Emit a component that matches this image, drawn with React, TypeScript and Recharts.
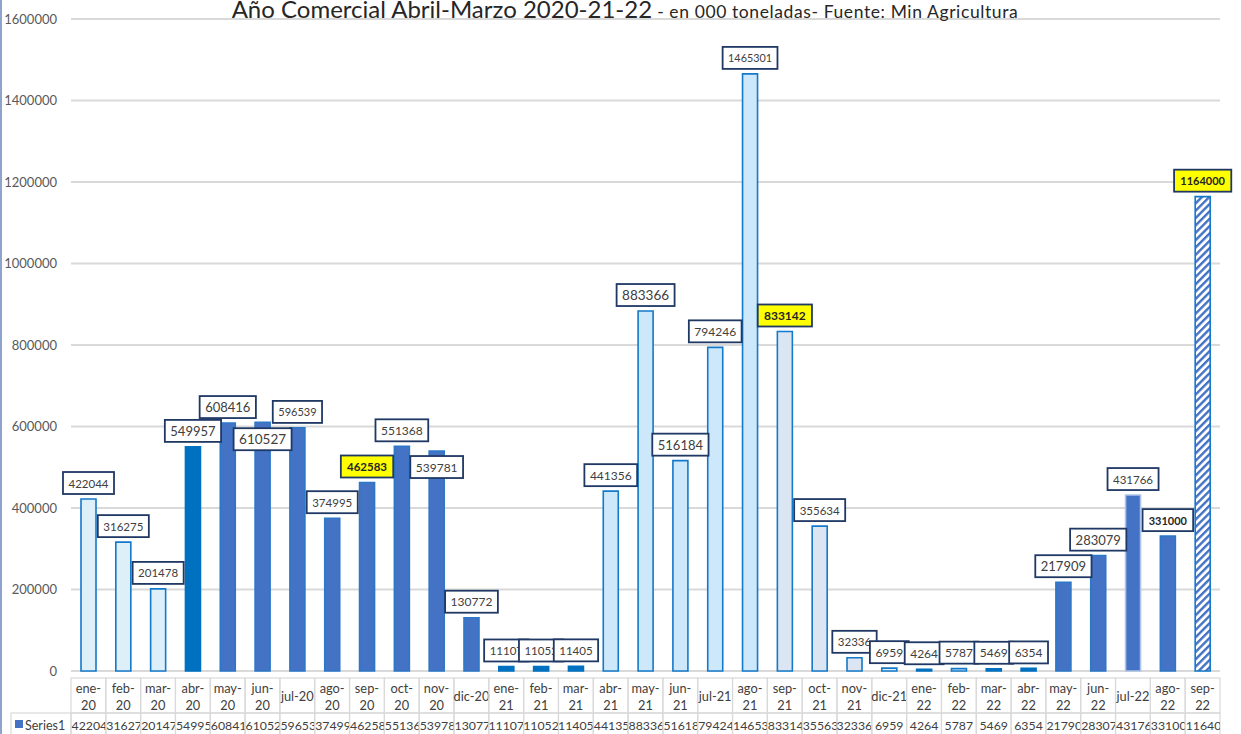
import React from 'react'
import { BarChart, Bar, XAxis, YAxis, CartesianGrid, Cell, LabelList } from 'recharts'

const categories = [
  'ene-20', 'feb-20', 'mar-20', 'abr-20', 'may-20', 'jun-20', 'jul-20', 'ago-20', 'sep-20', 'oct-20', 'nov-20', 'dic-20',
  'ene-21', 'feb-21', 'mar-21', 'abr-21', 'may-21', 'jun-21', 'jul-21', 'ago-21', 'sep-21', 'oct-21', 'nov-21', 'dic-21',
  'ene-22', 'feb-22', 'mar-22', 'abr-22', 'may-22', 'jun-22', 'jul-22', 'ago-22', 'sep-22',
]

const series1 = [
  422044, 316275, 201478, 549957, 608416, 610527, 596539, 374995, 462583, 551368, 539781, 130772,
  11107, 11052, 11405, 441356, 883366, 516184, 794246, 1465301, 833142, 355634, 32336, 6959,
  4264, 5787, 5469, 6354, 217909, 283079, 431766, 331000, 1164000,
]

const yTicks = [0, 200000, 400000, 600000, 800000, 1000000, 1200000, 1400000, 1600000]

const seriesName = 'Series1'
const titleMain = 'Año Comercial Abril-Marzo 2020-21-22'
const titleSub = ' - en 000 toneladas- Fuente: Min Agricultura'

// bar look per month (style keys)
const barKind = [
  'pale', 'pale', 'pale', 'solid', 'dark', 'dark', 'dark', 'dark', 'dark', 'dark', 'dark', 'dark',
  'solid', 'solid', 'solid', 'sky', 'sky', 'sky', 'sky', 'sky', 'grey', 'grey', 'grey', 'pale',
  'solid', 'pale', 'solid', 'solid', 'dark', 'dark', 'halo', 'dark', 'striped',
]

const kindStyle: Record<string, { fill: string; stroke: string }> = {
  pale: { fill: '#DDF0FA', stroke: '#1479C9' },
  sky: { fill: '#CDE8FB', stroke: '#1479C9' },
  grey: { fill: '#DCE6F3', stroke: '#1479C9' },
  solid: { fill: '#0070C0', stroke: '#0070C0' },
  dark: { fill: '#4472C4', stroke: '#2C78C8' },
  halo: { fill: '#4472C4', stroke: '#AFC3E8' },
  striped: { fill: 'url(#stripes)', stroke: '#1479C9' },
}

const labelSize = [
  11.5, 11.5, 11.5, 13, 13, 13.5, 11, 11.5, 11.5, 12, 12, 12,
  11.5, 11.5, 11.5, 12, 13.5, 13, 12, 10.8, 12, 11.5, 11.5, 12,
  12, 12, 12, 12, 13, 13, 11.5, 11, 11,
]
const highlighted = new Set([8, 20, 32])
const boldOnly = new Set([31])
const labelShift: Record<number, number> = { 5: 33, 10: 32 }

const W = 1241
const H = 734
const PLOT_L = 71
const PLOT_R = 1220
const BAND = (PLOT_R - PLOT_L) / categories.length
const ROW1 = 678
const ROW2 = 713
const FONT = 'Lato, "Open Sans", sans-serif'

const data = categories.map((name, i) => ({ name, v: series1[i] }))

function TableTick(props: any) {
  const { x, payload } = props
  const i = payload.index
  const left = x - BAND / 2
  const [m, yy] = categories[i].split('-')
  const oneLine = m === 'jul' || m === 'dic'
  const val = String(series1[i])
  const fits = val.length <= 5
  return (
    <g>
      <defs>
        <clipPath id={`cell-${i}`}>
          <rect x={left} y={ROW2} width={BAND} height={30} />
        </clipPath>
      </defs>
      <rect x={left} y={ROW1} width={BAND} height={ROW2 - ROW1} fill="none" stroke="#D9D9D9" strokeWidth={1.2} />
      <rect x={left} y={ROW2} width={BAND} height={30} fill="none" stroke="#D9D9D9" strokeWidth={1.2} />
      {oneLine ? (
        <text x={x} y={696} textAnchor="middle" dominantBaseline="central" fontSize={12.8} fill="#404040" fontFamily={FONT}>
          {categories[i]}
        </text>
      ) : (
        <text textAnchor="middle" fontSize={12.8} fill="#404040" fontFamily={FONT}>
          <tspan x={x} y={688} dominantBaseline="central">{m + '-'}</tspan>
          <tspan x={x} y={705} dominantBaseline="central">{yy}</tspan>
        </text>
      )}
      <g clipPath={`url(#cell-${i})`}>
        <text
          x={fits ? x : left + 0.5}
          y={725}
          textAnchor={fits ? 'middle' : 'start'}
          dominantBaseline="central"
          fontSize={12.3}
          fill="#404040"
          fontFamily={FONT}
        >
          {val}
        </text>
      </g>
      {i === 0 && (
        <g>
          <rect x={11} y={ROW2} width={PLOT_L - 11} height={30} fill="none" stroke="#D9D9D9" strokeWidth={1.2} />
          <rect x={15} y={720} width={8} height={8} fill="#4472C4" />
          <text x={25} y={725} dominantBaseline="central" fontSize={12.5} fill="#404040" fontFamily={FONT}>
            {seriesName}
          </text>
        </g>
      )}
    </g>
  )
}

function BoxLabel(props: any) {
  const { x, y, width, value } = props
  const i = props.index ?? series1.indexOf(Number(value))
  const fs = labelSize[i] ?? 12
  const hl = highlighted.has(i)
  const bold = hl || boldOnly.has(i)
  const tw = String(value).length * fs * (bold ? 0.6 : 0.58)
  const bw = tw + 11
  const bh = 22
  const cx = x + width / 2
  const bottom = y - 5 + (labelShift[i] ?? 0)
  return (
    <g>
      <rect
        x={cx - bw / 2}
        y={bottom - bh}
        width={bw}
        height={bh}
        fill={hl ? '#FFFF00' : '#FFFFFF'}
        stroke="#1F3864"
        strokeWidth={1.8}
      />
      <text
        x={cx}
        y={bottom - bh / 2}
        textAnchor="middle"
        dominantBaseline="central"
        fontSize={fs}
        fontWeight={bold ? 700 : 400}
        fill={bold ? '#262626' : '#404040'}
        fontFamily={FONT}
      >
        {value}
      </text>
    </g>
  )
}

export default function App() {
  return (
    <div style={{ position: 'absolute', left: 0, top: 0, width: W, height: H, background: '#fff', overflow: 'hidden' }}>
      <svg width={0} height={0} style={{ position: 'absolute' }}>
        <defs>
          <pattern id="stripes" patternUnits="userSpaceOnUse" width={5.2} height={5.2} patternTransform="rotate(45)">
            <rect width={5.2} height={5.2} fill="#FFFFFF" />
            <rect width={2.4} height={5.2} fill="#4472C4" />
          </pattern>
        </defs>
      </svg>
      <div style={{ position: 'absolute', left: 0, top: 0, width: 2, height: H, background: '#8EA4CC' }} />
      <BarChart width={W} height={H} data={data} margin={{ top: 19, right: W - PLOT_R, bottom: 0, left: 0 }}>
        <CartesianGrid vertical={false} stroke="#D9D9D9" strokeWidth={2} />
        <YAxis
          width={PLOT_L}
          domain={[0, 1600000]}
          ticks={yTicks}
          interval={0}
          axisLine={false}
          tickLine={false}
          tickSize={0}
          tickMargin={14}
          tick={{ fill: '#595959', fontSize: 13, fontFamily: FONT }}
        />
        <XAxis dataKey="name" height={H - 671} interval={0} axisLine={false} tickLine={false} tick={<TableTick />} />
        <Bar dataKey="v" barSize={15} isAnimationActive={false}>
          {data.map((d, i) => {
            const s = kindStyle[barKind[i]]
            return <Cell key={d.name} fill={s.fill} stroke={s.stroke} strokeWidth={1.6} />
          })}
          <LabelList dataKey="v" content={<BoxLabel />} />
        </Bar>
      </BarChart>
      <div
        style={{
          position: 'absolute',
          left: 0,
          top: -3,
          width: 1250,
          textAlign: 'center',
          fontFamily: FONT,
          color: '#262626',
          lineHeight: '24px',
          whiteSpace: 'nowrap',
        }}
      >
        <span style={{ fontSize: 24 }}>{titleMain}</span>
        <span style={{ fontSize: 17.5, letterSpacing: 0.6 }}>{titleSub}</span>
      </div>
    </div>
  )
}
